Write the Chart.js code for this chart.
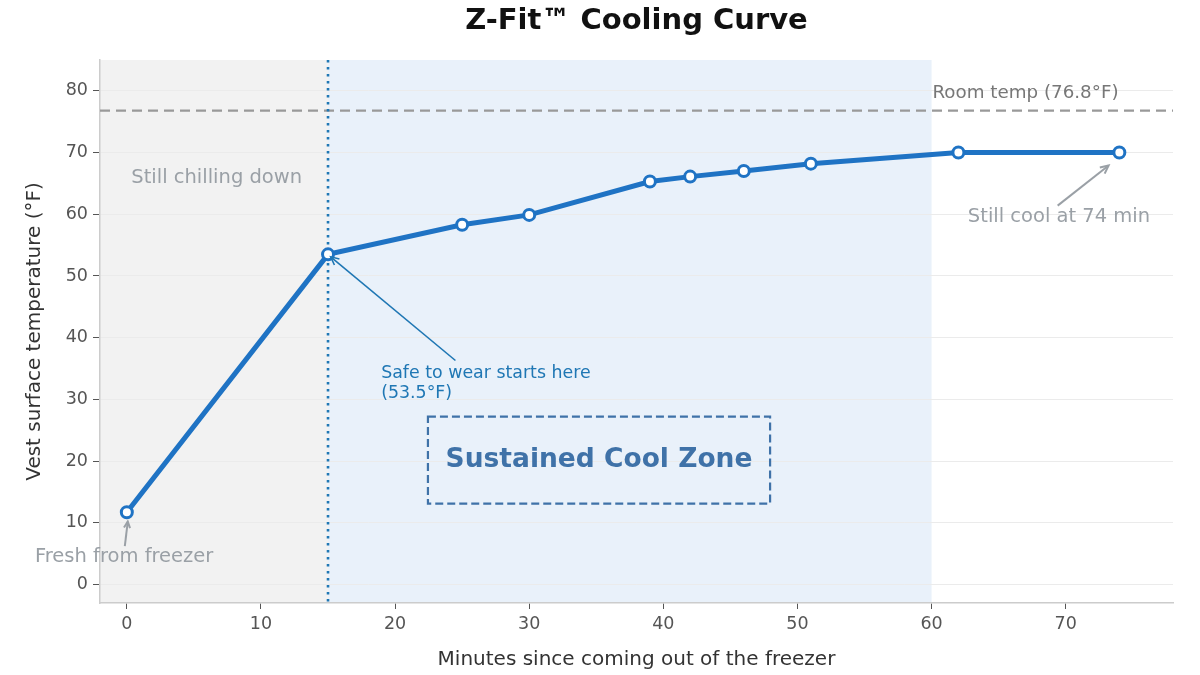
<!DOCTYPE html>
<html>
<head>
<meta charset="utf-8">
<script src="https://cdn.jsdelivr.net/npm/chart.js@4.4.1/dist/chart.umd.min.js"></script>
<style>
  html, body { margin: 0; padding: 0; background: #fff; }
  #wrap { width: 1200px; height: 675px; }
</style>
</head>
<body>
<div id="wrap"><canvas id="myChart" width="1200" height="675"></canvas></div>
<script>
// data
var minutes = [0, 15, 25, 30, 39, 42, 46, 51, 62, 74];
var temps = [11.7, 53.5, 58.3, 59.9, 65.3, 66.1, 67.0, 68.2, 70.0, 70.0];
var xTicks = [0, 10, 20, 30, 40, 50, 60, 70];
var yTicks = [0, 10, 20, 30, 40, 50, 60, 70, 80];
var roomTemp = 76.8;
var safeStart = 15;
var coolZoneEnd = 60;

var FONT = "'DejaVu Sans', sans-serif";
var BLUE = "#1f73c4";

function arrow(ctx, x1, y1, x2, y2, color, width, head) {
  var ang = Math.atan2(y2 - y1, x2 - x1);
  ctx.save();
  ctx.strokeStyle = color;
  ctx.lineWidth = width;
  ctx.beginPath();
  ctx.moveTo(x1, y1);
  ctx.lineTo(x2, y2);
  ctx.stroke();
  ctx.beginPath();
  ctx.moveTo(x2 - head * Math.cos(ang - 0.45), y2 - head * Math.sin(ang - 0.45));
  ctx.lineTo(x2, y2);
  ctx.lineTo(x2 - head * Math.cos(ang + 0.45), y2 - head * Math.sin(ang + 0.45));
  ctx.stroke();
  ctx.restore();
}

var decorations = {
  id: "decorations",
  beforeDraw: function (chart) {
    var ctx = chart.ctx, a = chart.chartArea;
    var x = chart.scales.x;
    ctx.save();
    ctx.fillStyle = "#fff";
    ctx.fillRect(0, 0, chart.width, chart.height);
    // shaded regions
    var xs = x.getPixelForValue(safeStart);
    var xe = x.getPixelForValue(coolZoneEnd);
    ctx.fillStyle = "#f2f2f2";
    ctx.fillRect(a.left, a.top, xs - a.left, a.bottom - a.top);
    ctx.fillStyle = "#e9f1fa";
    ctx.fillRect(xs, a.top, xe - xs, a.bottom - a.top);
    ctx.restore();
  },
  beforeDatasetsDraw: function (chart) {
    var ctx = chart.ctx, a = chart.chartArea;
    var x = chart.scales.x, y = chart.scales.y;
    ctx.save();
    // room temp line
    var yr = y.getPixelForValue(roomTemp);
    ctx.strokeStyle = "#999999";
    ctx.lineWidth = 2.2;
    ctx.setLineDash([10, 6]);
    ctx.beginPath();
    ctx.moveTo(a.left, yr);
    ctx.lineTo(a.right, yr);
    ctx.stroke();
    // safe-to-wear vertical
    var xs = x.getPixelForValue(safeStart);
    ctx.strokeStyle = "#1f77b4";
    ctx.lineWidth = 2.6;
    ctx.setLineDash([2.6, 4.4]);
    ctx.beginPath();
    ctx.moveTo(xs, a.top);
    ctx.lineTo(xs, a.bottom);
    ctx.stroke();
    ctx.setLineDash([]);
    ctx.restore();
  },
  afterDraw: function (chart) {
    var ctx = chart.ctx, a = chart.chartArea;
    var x = chart.scales.x, y = chart.scales.y;
    function px(v) { return x.getPixelForValue(v); }
    function py(v) { return y.getPixelForValue(v); }
    ctx.save();
    ctx.textBaseline = "middle";

    // title and axis titles
    ctx.fillStyle = "#111";
    ctx.textAlign = "center";
    ctx.font = "bold 29px " + FONT;
    ctx.fillText("Z-Fit\u2122 Cooling Curve", (a.left + a.right) / 2, 21);
    ctx.fillStyle = "#333";
    ctx.font = "20px " + FONT;
    ctx.fillText("Minutes since coming out of the freezer", (a.left + a.right) / 2, 660);
    ctx.save();
    ctx.translate(35, (a.top + a.bottom) / 2);
    ctx.rotate(-Math.PI / 2);
    ctx.fillText("Vest surface temperature (\u00B0F)", 0, 0);
    ctx.restore();

    // region labels
    ctx.fillStyle = "#9aa0a6";
    ctx.font = "19.5px " + FONT;
    ctx.fillText("Still chilling down", px(6.7), py(65.9));
    ctx.fillStyle = "#777";
    ctx.font = "18.3px " + FONT;
    ctx.fillText("Room temp (76.8\u00B0F)", px(67), py(79.6));

    // fresh from freezer
    ctx.fillStyle = "#9aa0a6";
    ctx.font = "19.5px " + FONT;
    ctx.fillText("Fresh from freezer", px(-0.2), py(4.5));
    arrow(ctx, px(-0.15), py(6.2), px(0.07), py(10.2), "#9aa0a6", 2, 7);

    // still cool
    ctx.fillText("Still cool at 74 min", px(69.5), py(59.6));
    arrow(ctx, px(69.4), py(61.4), px(73.2), py(67.9), "#9aa0a6", 2, 9);

    // safe to wear
    ctx.fillStyle = "#1f77b4";
    ctx.font = "17.4px " + FONT;
    ctx.textAlign = "left";
    ctx.fillText("Safe to wear starts here", px(18.96), py(34.2));
    ctx.fillText("(53.5\u00B0F)", px(18.96), py(30.9));
    arrow(ctx, px(24.5), py(36.3), px(15.2), py(53.1), "#1f77b4", 1.6, 9);

    // sustained cool zone box
    var bx1 = px(22.45), bx2 = px(47.96), by1 = py(27.2), by2 = py(13.1);
    ctx.strokeStyle = "#3f72a8";
    ctx.lineWidth = 2.2;
    ctx.setLineDash([8, 4]);
    ctx.strokeRect(bx1, by1, bx2 - bx1, by2 - by1);
    ctx.setLineDash([]);
    ctx.fillStyle = "#3f72a8";
    ctx.textAlign = "center";
    ctx.font = "bold 26.5px " + FONT;
    ctx.fillText("Sustained Cool Zone", (bx1 + bx2) / 2, (by1 + by2) / 2);
    ctx.restore();
  }
};

new Chart("myChart", {
  type: "scatter",
  data: {
    datasets: [
      {
        label: "Vest surface temperature",
        data: minutes.map(function (m, i) { return { x: m, y: temps[i] }; }),
        showLine: true,
        borderColor: BLUE,
        borderWidth: 5,
        pointRadius: 5.5,
        pointBorderWidth: 3,
        pointBackgroundColor: "#ffffff",
        pointBorderColor: BLUE,
        tension: 0,
      },
    ],
  },
  options: {
    responsive: false,
    animation: false,
    layout: { padding: { top: 60, right: 27, left: 0, bottom: 0 } },
    plugins: {
      legend: { display: false },
      tooltip: { enabled: false },
    },
    scales: {
      x: {
        type: "linear",
        min: -2,
        max: 78,
        afterBuildTicks: function (scale) {
          scale.ticks = xTicks.map(function (v) { return { value: v }; });
        },
        afterFit: function (scale) { scale.height = 72; },
        border: { color: "#cccccc", width: 1.5 },
        grid: { drawOnChartArea: false, tickLength: 6, tickColor: "#555", tickWidth: 1 },
        ticks: { color: "#555", font: { family: FONT, size: 17.5 }, padding: 5 },
      },
      y: {
        min: -3,
        max: 85,
        afterBuildTicks: function (scale) {
          scale.ticks = yTicks.map(function (v) { return { value: v }; });
        },
        afterFit: function (scale) { scale.width = 100; },
        border: { color: "#cccccc", width: 1.5 },
        grid: { color: "#ebebeb", lineWidth: 1, tickLength: 7, tickColor: "#555", tickWidth: 1 },
        ticks: { color: "#555", font: { family: FONT, size: 17.5 }, padding: 5 },
      },
    },
  },
  plugins: [decorations],
});
</script>
</body>
</html>
